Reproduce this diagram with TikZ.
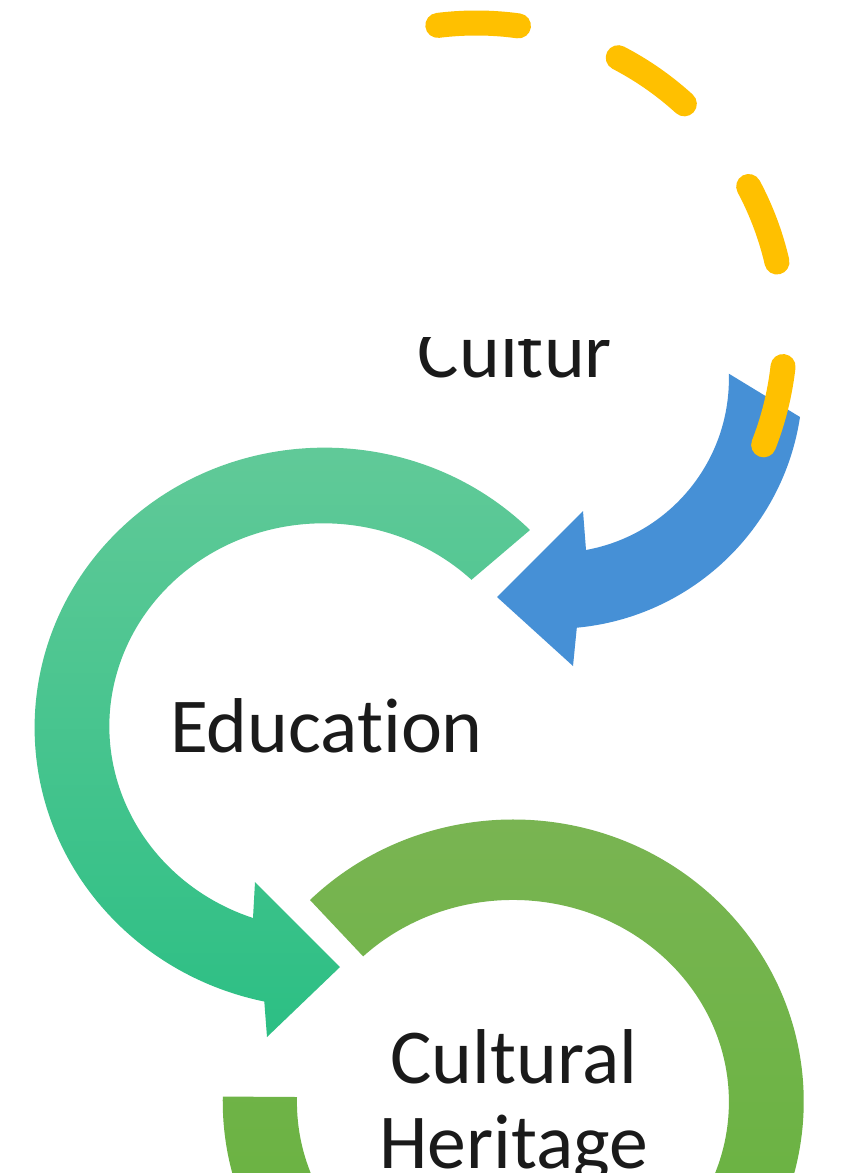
\documentclass[tikz,border=0pt]{standalone}
\usepackage{fontspec}
\setmainfont{Carlito}[Ligatures={NoCommon}]
\definecolor{tealA}{HTML}{63CA99}
\definecolor{tealB}{HTML}{2CBF84}
\definecolor{limeA}{HTML}{7AB453}
\definecolor{limeB}{HTML}{63B33A}
\definecolor{blueA}{HTML}{4690D6}
\definecolor{gold}{HTML}{FFC000}
\definecolor{txtc}{HTML}{1A1A1A}
\begin{document}
\begin{tikzpicture}[x=1pt,y=-1pt,
  lbl/.style={font=\fontsize{77.7}{87}\selectfont, text=txtc, inner sep=0pt, anchor=base},
  tealshape/.style={top color=tealA, bottom color=tealB, draw=none},
  limeshape/.style={top color=limeA, bottom color=limeB, draw=none},
  blueshape/.style={fill=blueA, draw=none},
  golddash/.style={draw=gold, line width=25pt, line cap=round, dash pattern=on 80.9pt off 105.2pt}]
\useasboundingbox (0,0) rectangle (851,1173);
\clip (0,0) rectangle (851,1173);
\fill[white] (0,0) rectangle (851,1173);

% blue arrow (Culture -> Education)
\path[blueshape] (800,417) arc[start angle=8.6, end angle=84.7, radius=249]
  -- (573,666) -- (497,597) -- (583,511) -- (586,550)
  arc[start angle=79.7, end angle=-1.7, radius=174] -- cycle;

% teal arrow (Education -> Cultural Heritage)
\path[tealshape] (530,530) arc[start angle=-44.9, end angle=-258, x radius=290, y radius=280]
  -- (267,1037) -- (340,967) -- (255,882) -- (253,918)
  arc[start angle=-250.8, end angle=-46.2, x radius=214, y radius=203] -- cycle;

% lime ring (Cultural Heritage)
\path[limeshape] (310,900) arc[start angle=-134.4, end angle=181, x radius=290.5, y radius=282]
  -- (297,1097)
  arc[start angle=181.4, end angle=-133.9, x radius=216, y radius=202] -- cycle;

% texts
\begin{scope}
  \clip (380,336) -- (650,341) -- (650,400) -- (380,400) -- cycle;
  \node[lbl] (cultur) at (515,377) {Cultur};
\end{scope}
\node[lbl] (edu) at (326.5,752) {Education};
\node[lbl] (cultural) at (514,1083) {Cultural};
\node[lbl] (heritage) at (514,1168) {Heritage};

% gold dashed arc
\draw[golddash] (437.8,25.4) arc[start angle=-97.1, end angle=21.5, radius=309];
\end{tikzpicture}
\end{document}
